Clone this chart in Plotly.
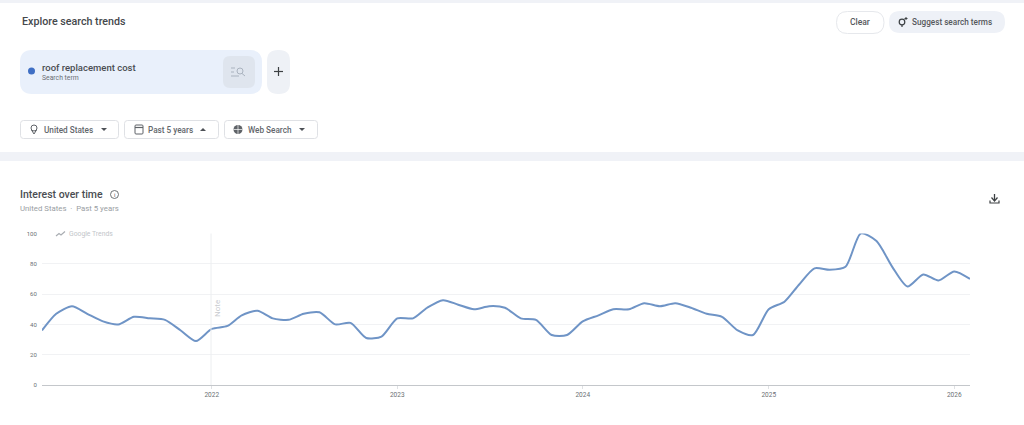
import pandas as pd
import plotly.graph_objects as go

months = pd.date_range("2021-02-01", "2026-02-01", freq="MS")
interest = [36, 47, 52, 47, 42, 40, 45, 44, 43, 36, 29, 37, 39, 46, 49, 44, 43, 47, 48, 40,
            41, 31, 32, 44, 44, 51, 56, 53, 50, 52, 51, 44, 43, 33, 33, 42, 46, 50, 50, 54,
            52, 54, 51, 47, 45, 36, 33, 50, 55, 66, 77, 76, 78, 100, 95, 78, 65, 73, 69, 75, 70]
year_ticks = ["2022-01-01", "2023-01-01", "2024-01-01", "2025-01-01", "2026-01-01"]
year_labels = ["2022", "2023", "2024", "2025", "2026"]
y_ticks = [0, 20, 40, 60, 80, 100]
FONT = "Roboto"
W, H = 1024, 425


def px(x):
    return x / W


def py(y):
    return 1 - y / H


shapes, notes = [], []


def rrect(x0, y0, x1, y1, r, fill, line=None, lw=1):
    p = (f"M{px(x0+r)},{py(y0)} L{px(x1-r)},{py(y0)} Q{px(x1)},{py(y0)} {px(x1)},{py(y0+r)} "
         f"L{px(x1)},{py(y1-r)} Q{px(x1)},{py(y1)} {px(x1-r)},{py(y1)} L{px(x0+r)},{py(y1)} "
         f"Q{px(x0)},{py(y1)} {px(x0)},{py(y1-r)} L{px(x0)},{py(y0+r)} Q{px(x0)},{py(y0)} {px(x0+r)},{py(y0)} Z")
    shapes.append(dict(type="path", xref="paper", yref="paper", path=p, fillcolor=fill,
                       line=dict(color=line or "rgba(0,0,0,0)", width=lw if line else 0)))


def box(x0, y0, x1, y1, fill):
    shapes.append(dict(type="rect", xref="paper", yref="paper", x0=px(x0), x1=px(x1),
                       y0=py(y0), y1=py(y1), fillcolor=fill, line=dict(width=0), layer="below"))


def seg(pts, color, lw=1, fill=None):
    p = "M" + " L".join(f"{px(a)},{py(b)}" for a, b in pts)
    if fill:
        p += " Z"
    shapes.append(dict(type="path", xref="paper", yref="paper", path=p,
                       fillcolor=fill or "rgba(0,0,0,0)",
                       line=dict(color=color, width=lw if lw else 0)))


def circ(cx, cy, r, fill="rgba(0,0,0,0)", line=None, lw=1):
    shapes.append(dict(type="circle", xref="paper", yref="paper",
                       x0=px(cx - r), x1=px(cx + r), y0=py(cy - r), y1=py(cy + r),
                       fillcolor=fill, line=dict(color=line or "rgba(0,0,0,0)", width=lw if line else 0)))


def text(x, y, s, size, color, weight=400, anchor="left", angle=0, bg=None):
    notes.append(dict(xref="paper", yref="paper", x=px(x - 1 if anchor == "left" else x), y=py(y),
                      text=s, showarrow=False,
                      xanchor=anchor, yanchor="middle", textangle=angle, bgcolor=bg,
                      borderpad=0, font=dict(family=FONT, size=size, color=color, weight=weight)))


# page bands
box(0, 0, 1024, 3, "#f0f2f7")
box(0, 152, 1024, 161, "#f0f2f7")

# header
text(22, 22, "Explore search trends", 10.7, "#45484c", 500)
rrect(836.5, 11.5, 884, 33.5, 11, "#ffffff", "#e6e8ec")
text(860, 22, "Clear", 8.5, "#55585c", 500, "center")
rrect(889, 11, 1005, 33, 11, "#eef1f7")
text(912, 22, "Suggest search terms", 8.2, "#55585c", 500)
circ(902, 22, 2.8, line="#3c4043", lw=1.2)
seg([(902, 25), (902, 27)], "#3c4043", 1.2)
seg([(906, 17), (906, 20)], "#3c4043", 1)
seg([(904.5, 18.5), (907.5, 18.5)], "#3c4043", 1)

# search term chip
rrect(20, 50, 262, 94, 12, "#e9f0fb")
circ(31.5, 71, 3.5, "#3f6fc4")
text(42, 67, "roof replacement cost", 9.5, "#4a4d52", 500)
text(42, 78, "Search term", 6.8, "#6b6f74")
rrect(223, 56, 255, 88, 7, "#dfe5ee")
circ(240, 71, 3, line="#aab3bf", lw=1)
seg([(242, 73.5), (245, 76)], "#aab3bf", 1)
seg([(231, 68), (235, 68)], "#aab3bf", 1)
seg([(231, 72), (234, 72)], "#aab3bf", 1)
seg([(231, 76), (239, 76)], "#aab3bf", 1)
rrect(267, 50, 290, 94, 11, "#eef1f6")
seg([(274, 71.5), (283, 71.5)], "#3c4043", 1.2)
seg([(278.5, 67), (278.5, 76)], "#3c4043", 1.2)

# filters
for x0, x1 in [(20, 119), (124, 219), (224, 318)]:
    rrect(x0 + 0.5, 120.5, x1 - 0.5, 138.5, 3, "#ffffff", "#dfe1e5")
text(44, 129.5, "United States", 8.2, "#63676c", 500)
text(148, 129.5, "Past 5 years", 8.2, "#63676c", 500)
text(248, 129.5, "Web Search", 8.2, "#63676c", 500)
seg([(101, 128), (107, 128), (104, 131)], "#4d5156", 0, "#4d5156")
seg([(200, 131), (206, 131), (203, 128)], "#4d5156", 0, "#4d5156")
seg([(299, 128), (305, 128), (302, 131)], "#4d5156", 0, "#4d5156")
# pin, calendar, globe icons
circ(34, 128, 3, line="#5f6368", lw=1)
seg([(31.5, 130), (34, 134), (36.5, 130)], "#5f6368", 1)
rrect(135, 125, 143, 134, 1, "rgba(0,0,0,0)", "#5f6368")
seg([(135, 127.5), (143, 127.5)], "#5f6368", 1.2)
circ(238, 129.5, 4.5, "#5f6368")
seg([(233.5, 129.5), (242.5, 129.5)], "#ffffff", 0.7)
seg([(238, 125), (238, 134)], "#ffffff", 0.7)

# chart heading
text(20, 194, "Interest over time", 10.5, "#4a4d52", 500)
circ(114.5, 194.5, 4, line="#5f6368", lw=0.9)
text(114.5, 194.5, "i", 6, "#5f6368", 400, "center")
text(20, 208, "United States  ·  Past 5 years", 7.8, "#9a9ea3")
# download icon
seg([(994.5, 194), (994.5, 200)], "#3c4043", 1.3)
seg([(991.5, 197.5), (994.5, 201), (997.5, 197.5)], "#3c4043", 1.2)
seg([(990, 200.5), (990, 203), (999, 203), (999, 200.5)], "#3c4043", 1.2)

# Note line and logo cover
seg([(211, 233.5), (211, 385)], "#eceef0", 1)
text(217, 309, "Note", 8, "#c9ccd0", 400, "center", -90)
box(52, 228, 116, 239, "#ffffff")
shapes[-1]["layer"] = "above"
seg([(56, 236), (59, 233.5), (61, 235), (65, 231.5)], "#a9adb2", 1.2)
text(69, 233.5, "Google Trends", 6.8, "#c2c5c9")

fig = go.Figure(go.Scatter(
    x=months, y=interest, mode="lines",
    line=dict(color="#6f94c6", width=2, shape="spline", smoothing=0.7),
    hoverinfo="skip", showlegend=False, cliponaxis=False))

fig.update_layout(
    width=W, height=H, autosize=False,
    margin=dict(l=0, r=0, t=0, b=0),
    paper_bgcolor="#ffffff", plot_bgcolor="#ffffff",
    xaxis=dict(domain=[42 / W, 970 / W], range=["2021-02-01", "2026-02-01"], automargin=False,
               tickmode="array", tickvals=year_ticks, ticktext=year_labels,
               showgrid=False, zeroline=False, showline=True, linecolor="#c4c7cb", linewidth=1,
               ticks="outside", ticklen=3, tickcolor="#dfe1e4",
               tickfont=dict(family=FONT, size=6.5, color="#6b6f74")),
    yaxis=dict(domain=[40 / H, 191.5 / H], range=[0, 100], automargin=False,
               tickmode="array", tickvals=y_ticks, ticks="outside", ticklen=3, tickcolor="#ffffff",
               showgrid=True, gridcolor="#f1f2f4", gridwidth=1, zeroline=False, showline=False,
               tickfont=dict(family=FONT, size=6, color="#6b6f74")),
    shapes=shapes, annotations=notes, hovermode=False,
)
fig.write_html("out.html", config=dict(displayModeBar=False),
               post_script="document.body.style.margin='0';")
